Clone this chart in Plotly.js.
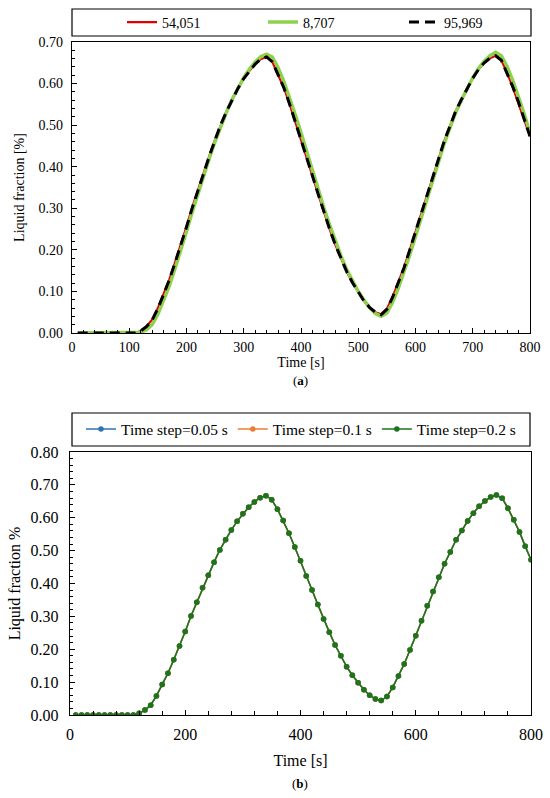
<!DOCTYPE html>
<html>
<head>
<meta charset="utf-8">
<script src="https://cdn.plot.ly/plotly-3.0.1.min.js"></script>
<style>html,body{margin:0;padding:0;background:#fff;}#chart{width:550px;height:798px;}</style>
</head>
<body>
<div id="chart"></div>
<script>
// ---------- data ----------
const time = [10,20,30,40,50,60,70,80,90,100,110,120,130,140,150,160,170,180,190,200,
  210,220,230,240,250,260,270,280,290,300,310,320,330,340,350,360,370,380,390,400,
  410,420,430,440,450,460,470,480,490,500,510,520,530,540,550,560,570,580,590,600,
  610,620,630,640,650,660,670,680,690,700,710,720,730,740,750,760,770,780,790,800];

// (a) mesh study
const mesh54051 = [0,0,0,0,0,0,0,0,0,0,0,0.005,0.016,0.032,0.060,0.094,0.129,0.170,0.212,0.256,
  0.302,0.345,0.388,0.427,0.466,0.502,0.533,0.563,0.589,0.612,0.631,0.647,0.659,0.664,0.652,0.623,0.590,0.551,0.509,0.467,
  0.421,0.378,0.334,0.290,0.250,0.212,0.179,0.147,0.121,0.098,0.077,0.061,0.050,0.045,0.058,0.087,0.122,0.158,0.200,0.243,
  0.289,0.334,0.378,0.420,0.461,0.497,0.533,0.561,0.589,0.613,0.634,0.650,0.661,0.667,0.656,0.626,0.591,0.554,0.512,0.473];
const mesh8707 = [0,0,0,0,0,0,0,0,0,0,0,0.002,0.008,0.020,0.045,0.078,0.113,0.155,0.198,0.244,
  0.291,0.336,0.380,0.421,0.461,0.499,0.532,0.563,0.590,0.614,0.635,0.652,0.665,0.671,0.664,0.638,0.605,0.568,0.525,0.482,
  0.436,0.390,0.346,0.301,0.260,0.220,0.185,0.152,0.124,0.100,0.079,0.061,0.047,0.040,0.048,0.074,0.108,0.146,0.188,0.232,
  0.278,0.324,0.369,0.413,0.455,0.493,0.530,0.560,0.589,0.614,0.636,0.654,0.667,0.675,0.667,0.641,0.607,0.570,0.527,0.481];
const mesh95969 = [0,0,0,0,0,0,0,0,0,0,0,0.005,0.015,0.031,0.059,0.093,0.128,0.169,0.211,0.255,
  0.301,0.344,0.387,0.426,0.465,0.502,0.533,0.563,0.589,0.612,0.631,0.647,0.659,0.664,0.652,0.623,0.590,0.551,0.509,0.467,
  0.421,0.378,0.334,0.290,0.250,0.212,0.179,0.147,0.121,0.098,0.077,0.061,0.050,0.044,0.057,0.086,0.121,0.157,0.200,0.243,
  0.289,0.334,0.378,0.420,0.461,0.497,0.533,0.561,0.589,0.613,0.634,0.650,0.661,0.667,0.656,0.626,0.592,0.555,0.512,0.473];

// (b) time step study
const step005 = [0,0,0,0,0,0,0,0,0,0,0,0.005,0.015,0.030,0.058,0.093,0.127,0.168,0.210,0.254,
  0.301,0.343,0.387,0.425,0.465,0.502,0.533,0.563,0.589,0.612,0.632,0.648,0.661,0.667,0.655,0.626,0.592,0.553,0.511,0.469,
  0.423,0.380,0.336,0.292,0.252,0.213,0.180,0.147,0.121,0.098,0.077,0.060,0.049,0.044,0.056,0.084,0.119,0.155,0.198,0.241,
  0.287,0.332,0.376,0.419,0.460,0.496,0.533,0.561,0.590,0.614,0.635,0.651,0.663,0.669,0.659,0.629,0.594,0.557,0.513,0.472];
const step01 = [0,0,0,0,0,0,0,0,0,0,0,0.005,0.015,0.030,0.058,0.093,0.127,0.168,0.210,0.254,
  0.301,0.343,0.387,0.425,0.465,0.502,0.533,0.563,0.589,0.612,0.632,0.648,0.661,0.667,0.655,0.626,0.592,0.553,0.511,0.469,
  0.423,0.380,0.336,0.292,0.252,0.213,0.180,0.147,0.121,0.098,0.077,0.060,0.049,0.044,0.056,0.084,0.119,0.155,0.198,0.241,
  0.287,0.332,0.376,0.419,0.460,0.496,0.533,0.561,0.590,0.614,0.635,0.651,0.663,0.669,0.659,0.629,0.594,0.557,0.513,0.472];
const step02 = [0,0,0,0,0,0,0,0,0,0,0,0.005,0.015,0.030,0.058,0.093,0.127,0.168,0.210,0.254,
  0.301,0.343,0.387,0.425,0.465,0.502,0.533,0.563,0.589,0.612,0.632,0.648,0.661,0.667,0.655,0.626,0.592,0.553,0.511,0.469,
  0.423,0.380,0.336,0.292,0.252,0.213,0.180,0.147,0.121,0.098,0.077,0.060,0.049,0.044,0.056,0.084,0.119,0.155,0.198,0.241,
  0.287,0.332,0.376,0.419,0.460,0.496,0.533,0.561,0.590,0.614,0.635,0.651,0.663,0.669,0.659,0.629,0.594,0.557,0.513,0.472];

const meshNames = ['54,051','8,707','95,969'];
const stepNames = ['Time step=0.05 s','Time step=0.1 s','Time step=0.2 s'];
const topYTicks = [0,0.1,0.2,0.3,0.4,0.5,0.6,0.7];
const botYTicks = [0,0.1,0.2,0.3,0.4,0.5,0.6,0.7,0.8];

// ---------- figure ----------
const W = 550, H = 798;
const px = v => v / W;
const py = v => 1 - v / H;
const FONT = '"Liberation Serif"';

const traces = [
  {x: time, y: mesh54051, name: meshNames[0], mode: 'lines', xaxis: 'x', yaxis: 'y', legend: 'legend',
   line: {color: '#E00000', width: 2.2}},
  {x: time, y: mesh8707, name: meshNames[1], mode: 'lines', xaxis: 'x', yaxis: 'y', legend: 'legend',
   line: {color: '#8FD14F', width: 3.5}},
  {x: time, y: mesh95969, name: meshNames[2], mode: 'lines', xaxis: 'x', yaxis: 'y', legend: 'legend',
   line: {color: '#000000', width: 3, dash: '10px,6px'}},
  {x: time, y: step005, name: stepNames[0], mode: 'lines+markers', xaxis: 'x2', yaxis: 'y2', legend: 'legend2',
   line: {color: '#2E75B6', width: 1.5}, marker: {color: '#2E75B6', size: 5.5}},
  {x: time, y: step01, name: stepNames[1], mode: 'lines+markers', xaxis: 'x2', yaxis: 'y2', legend: 'legend2',
   line: {color: '#ED7D31', width: 1.5}, marker: {color: '#ED7D31', size: 5.5}},
  {x: time, y: step02, name: stepNames[2], mode: 'lines+markers', xaxis: 'x2', yaxis: 'y2', legend: 'legend2',
   line: {color: '#1B751B', width: 1.5}, marker: {color: '#1B751B', size: 5.5}}
];

const axCommon = {
  showline: true, linecolor: '#000', linewidth: 1.2, mirror: true,
  ticks: 'inside', tickcolor: '#000', ticklen: 5, tickwidth: 1,
  showgrid: false, zeroline: false, fixedrange: true, automargin: false
};

const layout = {
  width: W, height: H,
  margin: {l: 0, r: 0, t: 0, b: 0, autoexpand: false},
  paper_bgcolor: '#fff', plot_bgcolor: '#fff',
  font: {family: FONT, color: '#000'},
  xaxis: Object.assign({}, axCommon, {
    domain: [px(72), px(530)], anchor: 'y', range: [0, 800], dtick: 100, tick0: 0,
    minor: {dtick: 20, ticks: 'inside', ticklen: 3, tickcolor: '#000'},
    tickfont: {size: 14, family: FONT}, ticklabelstandoff: 1,
    title: {text: 'Time [s]', font: {size: 14, family: FONT}, standoff: 0}
  }),
  yaxis: Object.assign({}, axCommon, {
    domain: [py(333), py(42)], anchor: 'x', range: [0, 0.7], tickvals: topYTicks, tickformat: '.2f',
    minor: {dtick: 0.02, ticks: 'inside', ticklen: 3, tickcolor: '#000'},
    tickfont: {size: 14, family: FONT}, ticklabelstandoff: 5,
    title: {text: 'Liquid fraction [%]', font: {size: 14, family: FONT}, standoff: 10}
  }),
  xaxis2: Object.assign({}, axCommon, {
    domain: [px(70), px(531)], anchor: 'y2', range: [0, 800], dtick: 200, tick0: 0,
    minor: {dtick: 40, ticks: 'inside', ticklen: 4, tickcolor: '#000'},
    tickfont: {size: 16, family: FONT}, ticklabelstandoff: 5,
    title: {text: 'Time [s]', font: {size: 16, family: FONT}, standoff: 12}
  }),
  yaxis2: Object.assign({}, axCommon, {
    domain: [py(715), py(452)], anchor: 'x2', range: [0, 0.8], tickvals: botYTicks, tickformat: '.2f',
    minor: {dtick: 0.02, ticks: 'inside', ticklen: 3, tickcolor: '#000'},
    tickfont: {size: 16, family: FONT}, ticklabelstandoff: 7,
    title: {text: 'Liquid fraction %', font: {size: 16, family: FONT}, standoff: 6}
  }),
  legend: {
    orientation: 'h', x: px(122), xanchor: 'left', y: py(22.5), yanchor: 'middle',
    font: {size: 14, family: FONT}, bgcolor: 'rgba(0,0,0,0)', borderwidth: 0,
    entrywidth: 96, entrywidthmode: 'pixels', itemclick: false, itemdoubleclick: false
  },
  legend2: {
    orientation: 'h', x: px(301), xanchor: 'center', y: py(429.5), yanchor: 'middle',
    font: {size: 15.5, family: FONT}, bgcolor: 'rgba(0,0,0,0)', borderwidth: 0,
    itemclick: false, itemdoubleclick: false
  },
  shapes: [
    {type: 'rect', xref: 'paper', yref: 'paper', x0: px(72), x1: px(531), y0: py(36), y1: py(9),
     line: {color: '#000', width: 1.2}},
    {type: 'rect', xref: 'paper', yref: 'paper', x0: px(72), x1: px(530), y0: py(446), y1: py(413),
     line: {color: '#000', width: 1.2}}
  ],
  annotations: [
    {xref: 'paper', yref: 'paper', x: px(300), y: py(380), text: '(<b>a</b>)', showarrow: false,
     font: {size: 13, family: FONT}, xanchor: 'center', yanchor: 'middle'},
    {xref: 'paper', yref: 'paper', x: px(300), y: py(783), text: '(<b>b</b>)', showarrow: false,
     font: {size: 13, family: FONT}, xanchor: 'center', yanchor: 'middle'}
  ],
  showlegend: true
};

Plotly.newPlot('chart', traces, layout, {displayModeBar: false, staticPlot: true});
</script>
</body>
</html>
